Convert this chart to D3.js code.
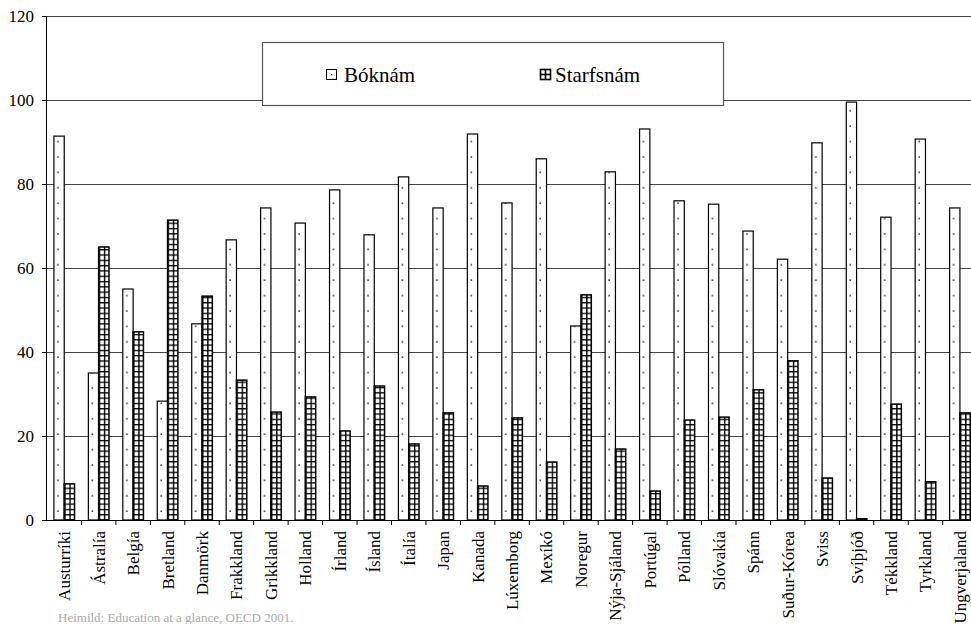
<!DOCTYPE html>
<html>
<head>
<meta charset="utf-8">
<script src="https://cdn.jsdelivr.net/npm/d3@7"></script>
<style>
  html, body { margin: 0; padding: 0; background: #fff; }
  svg { display: block; }
  svg text { font-family: "Liberation Serif", "Times New Roman", Times, "DejaVu Serif", serif; }
</style>
</head>
<body>
<svg id="chart" width="971" height="624"></svg>
<script>
const categories = ["Austurríki","Ástralía","Belgía","Bretland","Danmörk","Frakkland","Grikkland","Holland","Írland","Ísland","Ítalía","Japan","Kanada","Lúxemborg","Mexíkó","Noregur","Nýja-Sjáland","Portúgal","Pólland","Slóvakía","Spánn","Suður-Kórea","Sviss","Svíþjóð","Tékkland","Tyrkland","Ungverjaland"];
const seriesNames = ["Bóknám","Starfsnám"];
const boknam = [91.4,35.0,55.0,28.3,46.7,66.7,74.3,70.7,78.6,67.9,81.7,74.3,91.9,75.5,86.0,46.2,82.9,93.1,76.0,75.2,68.8,62.1,89.8,99.5,72.1,90.7,74.3];
const starfsnam = [8.6,65.0,44.8,71.4,53.3,33.3,25.7,29.3,21.2,31.9,18.1,25.5,8.1,24.3,13.8,53.6,16.9,6.9,23.8,24.5,31.0,37.9,10.0,0.3,27.6,9.1,25.5];
const yTicks = [0,20,40,60,80,100,120];
const sourceText = "Heimild: Education at a glance, OECD 2001.";

(function () {
const FONT = '"Liberation Serif", "Times New Roman", Times, "DejaVu Serif", serif';
const svg = d3.select("#chart");
const pLeft = 47, pTop = 16, pBottom = 520;
const step = 34.45;
const pRight = pLeft + categories.length * step;

const x = d3.scaleBand().domain(categories).range([pLeft, pRight]).paddingInner(0).paddingOuter(0);
const xs = d3.scaleBand().domain(seriesNames).range([0, x.bandwidth()]).paddingInner(0).paddingOuter(0.672);
const y = d3.scaleLinear().domain([0, 120]).range([pBottom, pTop]);

const defs = svg.append("defs");
const pd = defs.append("pattern").attr("id","dots").attr("patternUnits","userSpaceOnUse")
  .attr("width", 7.7).attr("height", 15.4);
pd.append("rect").attr("width",7.7).attr("height",15.4).attr("fill","#fff");
pd.append("circle").attr("cx",4).attr("cy",3).attr("r",0.9).attr("fill","#222");
const cw = xs.bandwidth()/2;
const pg = defs.append("pattern").attr("id","grid").attr("patternUnits","userSpaceOnUse")
  .attr("width", cw).attr("height", 5.3);
pg.append("rect").attr("width",cw).attr("height",5.3).attr("fill","#fff");
pg.append("rect").attr("x",0).attr("y",0).attr("width",1.4).attr("height",5.3).attr("fill","#000");
pg.append("rect").attr("x",0).attr("y",0).attr("width",cw).attr("height",1.3).attr("fill","#000");

svg.append("g").selectAll("line").data(yTicks.filter(d => d > 0)).join("line")
  .attr("x1", pLeft).attr("x2", pRight).attr("y1", d => y(d)).attr("y2", d => y(d))
  .attr("stroke", "#444").attr("stroke-width", 1).attr("shape-rendering","crispEdges");

const groups = svg.append("g").selectAll("g").data(categories).join("g");
groups.each(function(c, i) {
  const g = d3.select(this);
  const vals = [boknam[i], starfsnam[i]];
  seriesNames.forEach((s, j) => {
    const bx = x(c) + xs(s);
    const bg = g.append("g").attr("transform", `translate(${bx},0)`);
    bg.append("rect")
      .attr("x", 0).attr("y", y(vals[j]))
      .attr("width", xs.bandwidth()).attr("height", y(0) - y(vals[j]))
      .attr("fill", j === 0 ? "url(#dots)" : "url(#grid)")
      .attr("stroke", "#000").attr("stroke-width", j === 0 ? 1.2 : 1.5);
  });
});

const yAxis = d3.axisLeft(y).tickValues(yTicks).tickSize(5).tickPadding(8).tickFormat(d3.format("d"));
const ya = svg.append("g").attr("transform", `translate(${pLeft},0)`).call(yAxis);
ya.attr("font-family", FONT);
ya.select(".domain").attr("stroke","#000").attr("d", `M-0.5,${pTop}V${pBottom}`);
ya.selectAll(".tick line").attr("stroke","#000");
ya.selectAll("text").style("font-family", FONT).attr("font-size", 17).attr("fill","#000");

const xAxis = d3.axisBottom(x).tickSize(0).tickPadding(0);
const xa = svg.append("g").attr("transform", `translate(0,${pBottom})`).call(xAxis);
xa.attr("font-family", FONT);
xa.select(".domain").attr("stroke","#000").attr("d", `M${pLeft},0.5H${pRight}`);
xa.selectAll(".tick text")
  .style("font-family", FONT).attr("font-size", 17).attr("fill","#000")
  .attr("transform","rotate(-90)").attr("text-anchor","end")
  .attr("x", -11).attr("y", 0).attr("dy","0.35em");
svg.append("g").selectAll("line").data(categories.slice(1)).join("line")
  .attr("x1", d => x(d)).attr("x2", d => x(d)).attr("y1", pBottom).attr("y2", pBottom + 5)
  .attr("stroke","#000");

const lg = svg.append("g");
lg.append("rect").attr("x", 262.5).attr("y", 42.5).attr("width", 461).attr("height", 63)
  .attr("fill","#fff").attr("stroke","#555").attr("stroke-width",1.2);
const legendItems = [
  {name: seriesNames[0], sx: 326},
  {name: seriesNames[1], sx: 540}
];
legendItems.forEach((it, j) => {
  const g = lg.append("g").attr("transform", `translate(${it.sx},69)`);
  if (j === 0) {
    g.append("rect").attr("x",0.5).attr("y",0.5).attr("width",10).attr("height",10).attr("fill","#fff").attr("stroke","#000");
    g.append("rect").attr("x",5).attr("y",5).attr("width",1.3).attr("height",1.3).attr("fill","#000");
  } else {
    g.append("rect").attr("x",0.5).attr("y",0.5).attr("width",10).attr("height",10).attr("fill","#fff").attr("stroke","#000").attr("stroke-width",1.6);
    g.append("line").attr("x1",5.5).attr("x2",5.5).attr("y1",0).attr("y2",11).attr("stroke","#000").attr("stroke-width",1.6);
    g.append("line").attr("x1",0).attr("x2",11).attr("y1",5.5).attr("y2",5.5).attr("stroke","#000").attr("stroke-width",1.6);
  }
  g.append("text").attr("x", j === 0 ? 18 : 15).attr("y", 12.5)
    .style("font-family", FONT).attr("font-size", 21).attr("fill","#000")
    .text(it.name);
});

svg.append("text").attr("x", 58).attr("y", 622)
  .style("font-family", FONT).attr("font-size", 13).attr("fill","#aaa")
  .text(sourceText);
})();
</script>
</body>
</html>
